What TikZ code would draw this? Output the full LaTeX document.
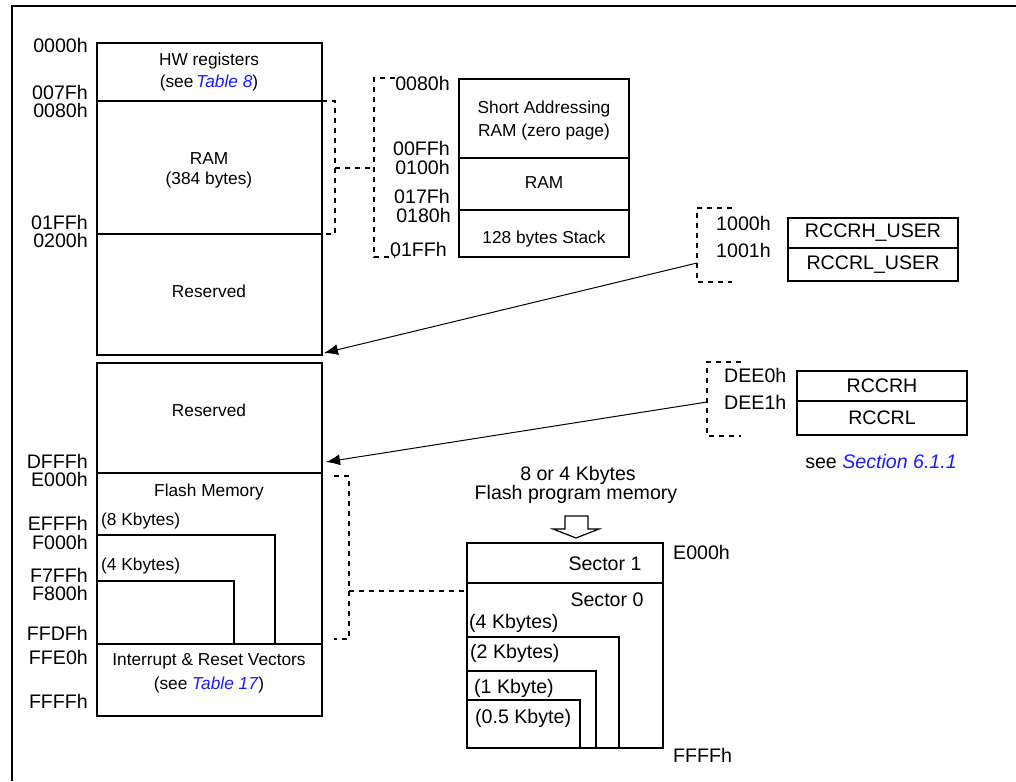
\documentclass[tikz,border=0pt]{standalone}
\usepackage{fontspec}
\setmainfont{Liberation Sans}
\usetikzlibrary{arrows.meta, positioning}
\usepackage{xcolor}
\definecolor{linkblue}{RGB}{26,26,255}
\newcommand{\mapfont}{\fontsize{17.3}{21.5}\selectfont}
\newcommand{\addrfont}{\fontsize{19.6}{22}\selectfont}
\newcommand{\reflink}[1]{\textcolor{linkblue}{\textit{#1}}}

\begin{document}
\begin{tikzpicture}[
        x=1pt, y=-1pt,
        region/.style={rectangle, draw, line width=2pt, inner sep=0pt, outer sep=0pt, anchor=north west},
        txt/.style={font=\mapfont, inner sep=0pt, align=center},
        big/.style={font=\addrfont, inner sep=0pt},
        addr/.style={font=\addrfont, inner sep=0pt, anchor=east},
        bracket/.style={line width=2pt, dash pattern=on 5pt off 5pt},
        arrow/.style={line width=1pt, -{Latex[length=14pt, width=11pt]}}
    ]
        \useasboundingbox (0,0) rectangle (1016,781);
        \draw [line width=2.5pt] (12,781) -- (12,6) -- (1016,6);

        % main memory map
        \node [region, minimum width=225, minimum height=58] (hwreg) at (97,43) {};
        \node [region, minimum width=225, minimum height=133] (ram) at (97,101) {};
        \node [region, minimum width=225, minimum height=121] (resa) at (97,234) {};
        \node [region, minimum width=225, minimum height=110] (resb) at (97,363) {};
        \node [region, minimum width=225, minimum height=171] (flash) at (97,473) {};
        \node [region, minimum width=225, minimum height=72] (vectors) at (97,644) {};
        \draw [line width=2pt] (97,535) -| (275,644);
        \draw [line width=2pt] (97,581) -| (234,644);

        \node [txt] at (209,61) {HW registers};
        \node [txt] at (209,83) {(see\,\reflink{Table 8})};
        \node [txt] at (209,159) {RAM};
        \node [txt] at (209,180) {(384 bytes)};
        \node [txt] at (209,291) {Reserved};
        \node [txt] at (209,410) {Reserved};
        \node [txt] at (209,492) {Flash Memory};
        \node [txt, anchor=west] at (101,521) {(8 Kbytes)};
        \node [txt, anchor=west] at (101,566) {(4 Kbytes)};
        \node [txt] at (209,661) {Interrupt \& Reset Vectors};
        \node [txt] at (209,685) {(see \reflink{Table 17})};

        \node [addr] (a0000) at (88,45) {0000h};
        \node [addr] (a007F) at (88,92) {007Fh};
        \node [addr] (a0080) at (88,110) {0080h};
        \node [addr] (a01FF) at (88,222) {01FFh};
        \node [addr] (a0200) at (88,240) {0200h};
        \node [addr] (aDFFF) at (88,461) {DFFFh};
        \node [addr] (aE000) at (88,479) {E000h};
        \node [addr] (aEFFF) at (88,523) {EFFFh};
        \node [addr] (aF000) at (88,542) {F000h};
        \node [addr] (aF7FF) at (88,575) {F7FFh};
        \node [addr] (aF800) at (88,593) {F800h};
        \node [addr] (aFFDF) at (88,633) {FFDFh};
        \node [addr] (aFFE0) at (88,657) {FFE0h};
        \node [addr] (aFFFF) at (88,701) {FFFFh};

        % RAM detail
        \node [region, minimum width=170, minimum height=79] (zeropage) at (459,79) {};
        \node [region, minimum width=170, minimum height=52] (ramb) at (459,158) {};
        \node [region, minimum width=170, minimum height=47] (stack) at (459,210) {};
        \node [txt] at (544,109) {Short Addressing};
        \node [txt] at (544,132) {RAM (zero page)};
        \node [txt] at (544,183) {RAM};
        \node [txt] at (544,239) {128 bytes Stack};

        \node [addr] (z0080) at (450,83) {0080h};
        \node [addr] (z00FF) at (450,148) {00FFh};
        \node [addr] (z0100) at (450,167) {0100h};
        \node [addr] (z017F) at (450,196) {017Fh};
        \node [addr] (z0180) at (451,215) {0180h};
        \node [addr] (z01FF) at (447,249) {01FFh};

        \coordinate (ramtap) at (335,168);
        \coordinate (zptap) at (374,168);
        \draw [bracket] (ram.north east) -- (335,101) -- (335,234) -- (ram.south east);
        \draw [bracket] (ramtap) -- (zptap);
        \draw [bracket] (395,78) -- (374,78) -- (374,257) -- (395,257);

        % option bytes
        \node [region, minimum width=170, minimum height=30] (userh) at (788,218) {};
        \node [region, minimum width=170, minimum height=33] (userl) at (788,248) {};
        \node [big] at (userh.center) {RCCRH\_USER};
        \node [big] at (userl.center) {RCCRL\_USER};
        \node [big, anchor=west] (u1000) at (716,223) {1000h};
        \node [big, anchor=west] (u1001) at (716,250) {1001h};
        \draw [bracket] (732,208) -- (697,208) -- (697,282) -- (732,282);

        \node [region, minimum width=170, minimum height=30] (rcch) at (797,371) {};
        \node [region, minimum width=170, minimum height=34] (rccl) at (797,401) {};
        \node [big] at (rcch.center) {RCCRH};
        \node [big] at (rccl.center) {RCCRL};
        \node [big, anchor=west] (dee0) at (724,375) {DEE0h};
        \node [big, anchor=west] (dee1) at (724,402) {DEE1h};
        \draw [bracket] (741,362) -- (707,362) -- (707,436) -- (741,436);
        \node [big] (seesec) at (881,461) {see \reflink{Section 6.1.1}};

        \coordinate (userbr) at (697,263);
        \coordinate (rccbr) at (707,402);
        \coordinate (resgap) at (324,353);
        \coordinate (resend) at (326,462);
        \draw [arrow] (userbr) -- (resgap);
        \draw [arrow] (rccbr) -- (resend);

        % flash program memory
        \node [big] (fpm1) at (578,475) {8 or 4 Kbytes};
        \node [big] (fpm2) at (576,494) {Flash program memory};
        \draw [line width=1.2pt] (565,516) -- (588,516) -- (588,529) -- (599,529) -- (576,538) -- (553,529) -- (565,529) -- cycle;

        \node [region, minimum width=196, minimum height=40] (sector1) at (467,543) {};
        \node [region, minimum width=196, minimum height=165] (sector0) at (467,583) {};
        \draw [line width=2pt] (467,637) -| (619,748);
        \draw [line width=2pt] (467,671) -| (596,748);
        \draw [line width=2pt] (467,700) -| (580,748);
        \node [big] at (605,564) {Sector 1};
        \node [big] at (607,600) {Sector 0};
        \node [big, anchor=west] at (469,623) {(4 Kbytes)};
        \node [big, anchor=west] at (470,653) {(2 Kbytes)};
        \node [big, anchor=west] at (474,688) {(1 Kbyte)};
        \node [big, anchor=west] at (475,718) {(0.5 Kbyte)};
        \node [big, anchor=west] (sE000) at (673,552) {E000h};
        \node [big, anchor=west] (sFFFF) at (673,755) {FFFFh};

        \coordinate (flashtap) at (349,591);
        \coordinate (sectortap) at (467,591);
        \draw [bracket] (334,476) -- (349,476) -- (349,639) -- (334,639);
        \draw [bracket] (flashtap) -- (sectortap);

    \end{tikzpicture}
\end{document}
